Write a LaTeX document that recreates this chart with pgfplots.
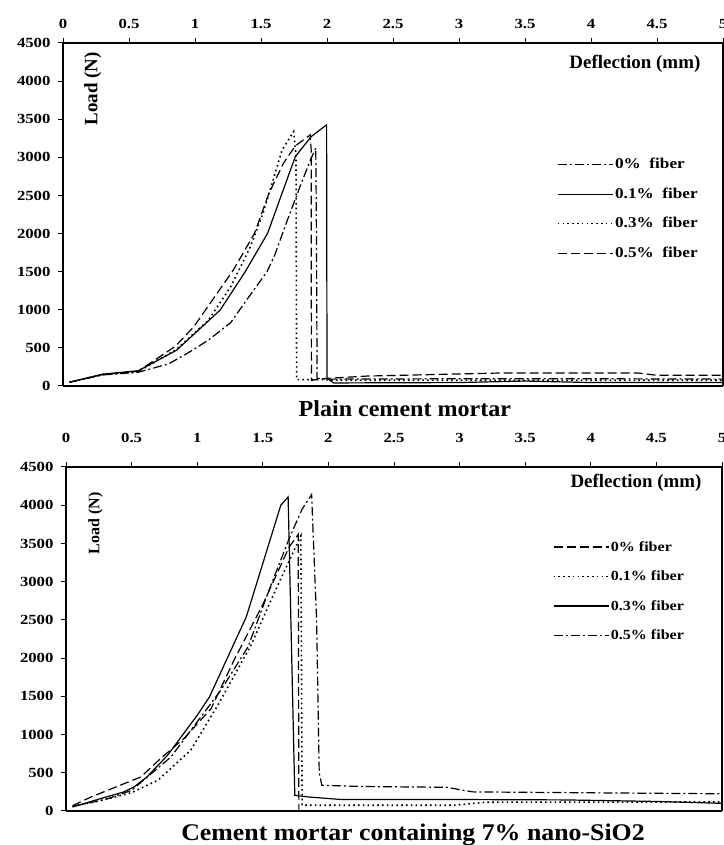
\documentclass[border=0pt]{standalone}
\usepackage{fontspec}
\setmainfont{Liberation Serif}
\newfontfamily\tickfont[FakeStretch=1.2]{Liberation Serif}
\newfontfamily\legfont[FakeStretch=1.15]{Liberation Serif}
\newfontfamily\titfontA[FakeStretch=1.05]{Liberation Serif}
\newfontfamily\titfontB[FakeStretch=1.08]{Liberation Serif}
\usepackage{pgfplots}
\pgfplotsset{compat=1.18}
\pgfplotsset{
  myax/.style={
    scale only axis,
    clip mode=individual,
    xmin=0, xmax=5, ymin=0, ymax=4500,
    xtick={0,0.5,...,5}, ytick={0,500,...,4500},
    xtick pos=right, xticklabel pos=right,
    ytick pos=left,
    tick align=outside,
    major tick length=5bp,
    major tick style={line width=1bp, black},
    separate axis lines,
    axis line style={line width=1.8bp},
    /pgf/number format/assume math mode=true,
    /pgf/number format/1000 sep={},
    ticklabel style={font=\tickfont\bfseries\fontsize{14}{14}\selectfont},
    yticklabel style={xshift=-4bp},
    legend cell align=left,
    legend style={draw=none, fill=none, inner sep=0pt, outer sep=0pt,
      font=\legfont\bfseries\fontsize{15}{15}\selectfont, row sep=12.5bp,
      nodes={inner sep=1.5bp, text height=11bp, text depth=3bp}},
    legend image code/.code={\draw[##1] (0bp,0bp) -- (55bp,0bp);},
    every axis plot/.append style={line width=1.2bp, black},
  },
  sdash/.style={dash pattern=on 9bp off 4bp},
  sdot/.style={line width=1.6bp, dash pattern=on 1.6bp off 3.2bp},
  sdashdot/.style={dash pattern=on 9bp off 3bp on 2bp off 3bp},
}
\begin{document}
\begin{tikzpicture}
\path[use as bounding box] (0,0) rectangle (724bp,845bp);
% ---------- top: plain cement mortar ----------
\begin{axis}[myax,
  at={(63bp,459bp)}, anchor=south west, width=660bp, height=343bp,
  xticklabel style={yshift=6bp},
  legend style={at={(rel axis cs:0.7485,0.670)}, anchor=north west},
]
\addplot[sdashdot] coordinates {
(0.05,50) (0.30,145) (0.57,180) (0.80,290) (0.94,426) (1.10,600) (1.27,830)
(1.39,1126) (1.545,1498) (1.60,1700) (1.70,2177) (1.80,2637) (1.875,2966)
(1.915,3120) (1.92,2000) (1.925,100) (2.00,90) (3.00,95) (4.00,95) (5.00,90)};
\addlegendentry{0\%\ \ fiber}
\addplot[solid] coordinates {
(0.05,50) (0.30,155) (0.57,200) (0.86,469) (1.19,995) (1.38,1498) (1.55,2003)
(1.65,2484) (1.76,3009) (1.88,3272) (1.997,3426) (2.00,100) (2.05,40)
(3.00,45) (3.50,65) (4.00,45) (5.00,45)};
\addlegendentry{0.1\%\ \ fiber}
\addplot[sdot] coordinates {
(0.05,50) (0.30,150) (0.57,190) (0.86,480) (1.10,860) (1.27,1301) (1.42,1827)
(1.52,2290) (1.66,3097) (1.747,3337) (1.765,3050) (1.77,84) (1.95,84)
(2.10,75) (5.00,75)};
\addlegendentry{0.3\%\ \ fiber}
\addplot[sdash] coordinates {
(0.05,50) (0.30,150) (0.57,195) (0.85,520) (0.99,775) (1.29,1520) (1.45,2000)
(1.56,2528) (1.67,2922) (1.76,3150) (1.873,3294) (1.88,3100) (1.882,75)
(2.00,100) (2.30,130) (3.30,170) (4.36,170) (4.50,140) (5.00,140)};
\addlegendentry{0.5\%\ \ fiber}
\node[anchor=base east, font=\bfseries\fontsize{19}{19}\selectfont]
  at (rel axis cs:0.971,0.927) {Deflection (mm)};
\node[anchor=base, rotate=90, font=\bfseries\fontsize{19}{19}\selectfont]
  at (rel axis cs:0.052,0.866) {Load (N)};
\node[anchor=base, font=\titfontA\bfseries\fontsize{23}{23}\selectfont]
  at (rel axis cs:0.518,-0.0895) {Plain cement mortar};
\end{axis}
% ---------- bottom: 7% nano-SiO2 ----------
\begin{axis}[myax,
  at={(66bp,34bp)}, anchor=south west, width=656bp, height=344bp,
  xticklabel style={yshift=16bp},
  legend style={at={(rel axis cs:0.742,0.792)}, anchor=north west,
    font=\legfont\bfseries\fontsize{14}{14}\selectfont},
]
\addplot[sdash] coordinates {
(0.05,70) (0.19,183) (0.57,445) (0.72,685) (0.90,950) (1.106,1340) (1.28,1971)
(1.50,2700) (1.70,3450) (1.77,3620) (1.775,0)};
\addlegendentry{0\% fiber}
\addplot[sdot] coordinates {
(0.05,60) (0.30,150) (0.50,240) (0.70,402) (0.95,794) (1.157,1383) (1.41,2168)
(1.60,2900) (1.79,3600) (1.80,75) (2.96,75) (3.20,115) (5.00,118)};
\addlegendentry{0.1\% fiber}
\addplot[solid] coordinates {
(0.05,52) (0.263,162) (0.44,249) (0.518,314) (0.62,450) (0.774,729) (1.00,1252)
(1.093,1491) (1.374,2538) (1.637,3999) (1.693,4108) (1.744,205) (1.85,183)
(2.10,150) (3.00,150) (3.80,145) (4.50,125) (5.00,100)};
\addlegendentry{0.3\% fiber}
\addplot[sdashdot] coordinates {
(0.05,60) (0.30,150) (0.50,270) (0.80,707) (1.18,1579) (1.387,2146) (1.55,2900)
(1.70,3560) (1.80,3950) (1.872,4140) (1.91,2500) (1.93,500) (1.95,336)
(2.27,320) (2.90,310) (3.10,250) (5.00,225)};
\addlegendentry{0.5\% fiber}
\node[anchor=base east, font=\bfseries\fontsize{19}{19}\selectfont]
  at (rel axis cs:0.974,0.939) {Deflection (mm)};
\node[anchor=base, rotate=90, font=\bfseries\fontsize{16}{16}\selectfont]
  at (rel axis cs:0.051,0.836) {Load (N)};
\node[anchor=base, font=\titfontB\bfseries\fontsize{24}{24}\selectfont]
  at (rel axis cs:0.529,-0.0843) {Cement mortar containing 7\% nano-SiO2};
\end{axis}
\end{tikzpicture}
\end{document}
